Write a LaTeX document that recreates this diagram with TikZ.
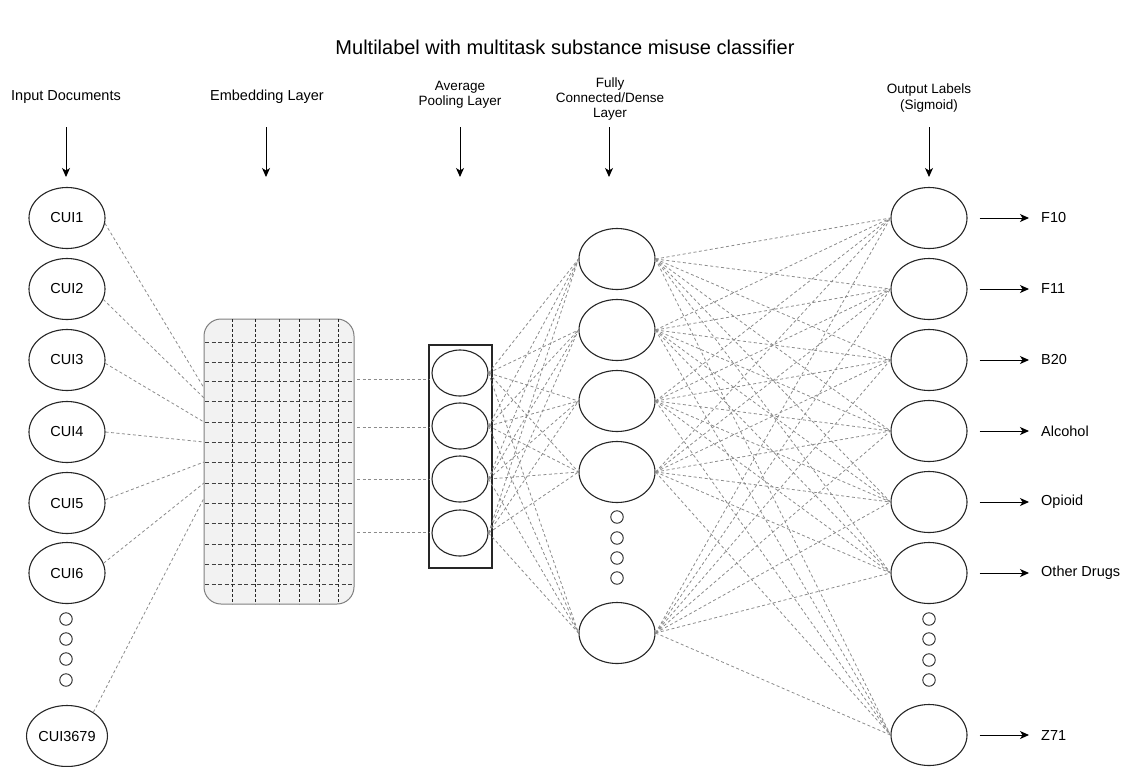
\documentclass[tikz,border=0pt]{standalone}
\usepackage{fontspec}
\setmainfont{Liberation Sans}
\usetikzlibrary{shapes.geometric,arrows.meta,calc}
\begin{document}
\begin{tikzpicture}[x=1pt,y=-1pt,
  lbl/.style={font=\fontsize{14.5}{16}\selectfont, inner sep=0pt, align=center, text=black},
  neuron/.style={draw=black!85, line width=1.1pt, ellipse, minimum width=76pt, minimum height=61pt, inner sep=0pt, font=\fontsize{14.5}{16}\selectfont},
  pneuron/.style={draw=black!85, line width=1.1pt, ellipse, minimum width=56pt, minimum height=46pt, inner sep=0pt},
  dotc/.style={draw=black!85, line width=0.9pt, circle, minimum size=12.5pt, inner sep=0pt},
  conn/.style={draw=black!45, line width=0.8pt, dash pattern=on 3pt off 2.5pt},
  gridh/.style={draw=black!75, line width=0.9pt, dash pattern=on 4pt off 2.5pt},
  gridv/.style={draw=black!85, line width=0.9pt, dash pattern=on 2.5pt off 2.5pt},
  arr/.style={draw=black, line width=1pt, -{Stealth[length=9pt,width=8pt,inset=2.5pt]}}
]
\useasboundingbox (0,0) rectangle (1129,766);
\fill[white] (0,0) rectangle (1129,766);

% title
\node[lbl, font=\fontsize{20}{22}\selectfont] (title) at (565,47) {Multilabel with multitask substance misuse classifier};

% headers
\node[lbl] (h1) at (66,97) {Input Documents};
\node[lbl] (h2) at (267,97) {Embedding Layer};
\node[lbl, font=\fontsize{13.5}{15.5}\selectfont] (h3) at (460,95) {Average\\Pooling Layer};
\node[lbl, font=\fontsize{13.5}{15}\selectfont] (h4) at (610,99) {Fully\\Connected/Dense\\Layer};
\node[lbl, font=\fontsize{13.5}{15.5}\selectfont] (h5) at (929,98) {Output Labels\\(Sigmoid)};

\coordinate (t1) at (66,127);  \coordinate (b1) at (66,177);
\coordinate (t2) at (266,127); \coordinate (b2) at (266,177);
\coordinate (t3) at (460,127); \coordinate (b3) at (460,177);
\coordinate (t4) at (609,127); \coordinate (b4) at (609,177);
\coordinate (t5) at (929,127); \coordinate (b5) at (929,177);
\foreach \i in {1,...,5} {\draw[arr] (t\i) -- (b\i);}

% input nodes
\node[neuron] (c1) at (67,218) {CUI1};
\node[neuron] (c2) at (67,289) {CUI2};
\node[neuron] (c3) at (67,360) {CUI3};
\node[neuron] (c4) at (67,432) {CUI4};
\node[neuron] (c5) at (67,503) {CUI5};
\node[neuron] (c6) at (67,573) {CUI6};
\node[neuron] (c7) at (67,736) {CUI3679};
\node[dotc] (id1) at (66,619) {};
\node[dotc] (id2) at (66,639) {};
\node[dotc] (id3) at (66,659) {};
\node[dotc] (id4) at (66,680) {};

% embedding box
\node[draw=black!50, fill=black!5, line width=1pt, rounded corners=17pt, minimum width=150pt, minimum height=285pt, inner sep=0pt] (emb) at (279,461.5) {};
\begin{scope}
  \clip[rounded corners=17pt] (204,319) rectangle (354,604);
  \foreach \y in {342,362,381,401,422,442,462,483,503,523,544,564,584} {\draw[gridh] (205,\y) -- (352,\y);}
  \foreach \x in {232,255,279,299,319,338} {\draw[gridv] (\x,319) -- (\x,604);}
\end{scope}

% input -> embedding
\coordinate (e1) at (204,388);
\coordinate (e2) at (204,398);
\coordinate (e3) at (204,422);
\coordinate (e4) at (204,442);
\coordinate (e5) at (204,462);
\coordinate (e6) at (204,483);
\coordinate (e7) at (204,498);
\draw[conn] (c1.-8) -- (e1);
\draw[conn] (c2.-16) -- (e2);
\draw[conn] (c3.-5) -- (e3);
\draw[conn] (c4.0) -- (e4);
\draw[conn] (c5.5) -- (e5);
\draw[conn] (c6.15) -- (e6);
\draw[conn] (c7.42) -- (e7);

% pooling layer
\node[draw=black!85, line width=1.2pt, minimum width=63pt, minimum height=223pt, inner sep=0pt] (pool) at (460.5,456.5) {};
\node[pneuron] (p1) at (460,373) {};
\node[pneuron] (p2) at (460,426) {};
\node[pneuron] (p3) at (460,479) {};
\node[pneuron] (p4) at (460,533) {};
\foreach \i/\y in {1/379,2/427,3/479,4/532} {
  \coordinate (es\i) at (357,\y);
  \coordinate (pe\i) at (429,\y);
  \draw[conn] (es\i) -- (pe\i);
}

% dense layer
\node[neuron] (d1) at (617,259) {};
\node[neuron] (d2) at (617,330) {};
\node[neuron] (d3) at (617,401) {};
\node[neuron] (d4) at (617,472) {};
\node[neuron] (d5) at (617,633) {};
\node[dotc] (dd1) at (617,517) {};
\node[dotc] (dd2) at (617,538) {};
\node[dotc] (dd3) at (617,558) {};
\node[dotc] (dd4) at (617,578) {};

% output layer
\node[neuron] (o1) at (929,218) {};
\node[neuron] (o2) at (929,289) {};
\node[neuron] (o3) at (929,360) {};
\node[neuron] (o4) at (929,431) {};
\node[neuron] (o5) at (929,502) {};
\node[neuron] (o6) at (929,573) {};
\node[neuron] (o7) at (929,735) {};
\node[dotc] (od1) at (929,619) {};
\node[dotc] (od2) at (929,639) {};
\node[dotc] (od3) at (929,660) {};
\node[dotc] (od4) at (929,680) {};

% pooling -> dense
\foreach \p in {1,...,4} {
  \foreach \d in {1,...,5} {
    \draw[conn] (p\p.east) -- (d\d.west);
  }
}
% dense -> output
\foreach \d in {1,...,5} {
  \foreach \o in {1,...,7} {
    \draw[conn] (d\d.east) -- (o\o.west);
  }
}

% output labels
\foreach \o/\t in {1/F10,2/F11,3/B20,4/Alcohol,5/Opioid,6/Other Drugs,7/Z71} {
  \node[lbl, anchor=west] (l\o) at ($(o\o.center)+(112,0)$) {\t};
  \draw[arr] ($(o\o.east)+(12,0)$) -- ($(l\o.west)+(-12,0)$);
}
\end{tikzpicture}
\end{document}
